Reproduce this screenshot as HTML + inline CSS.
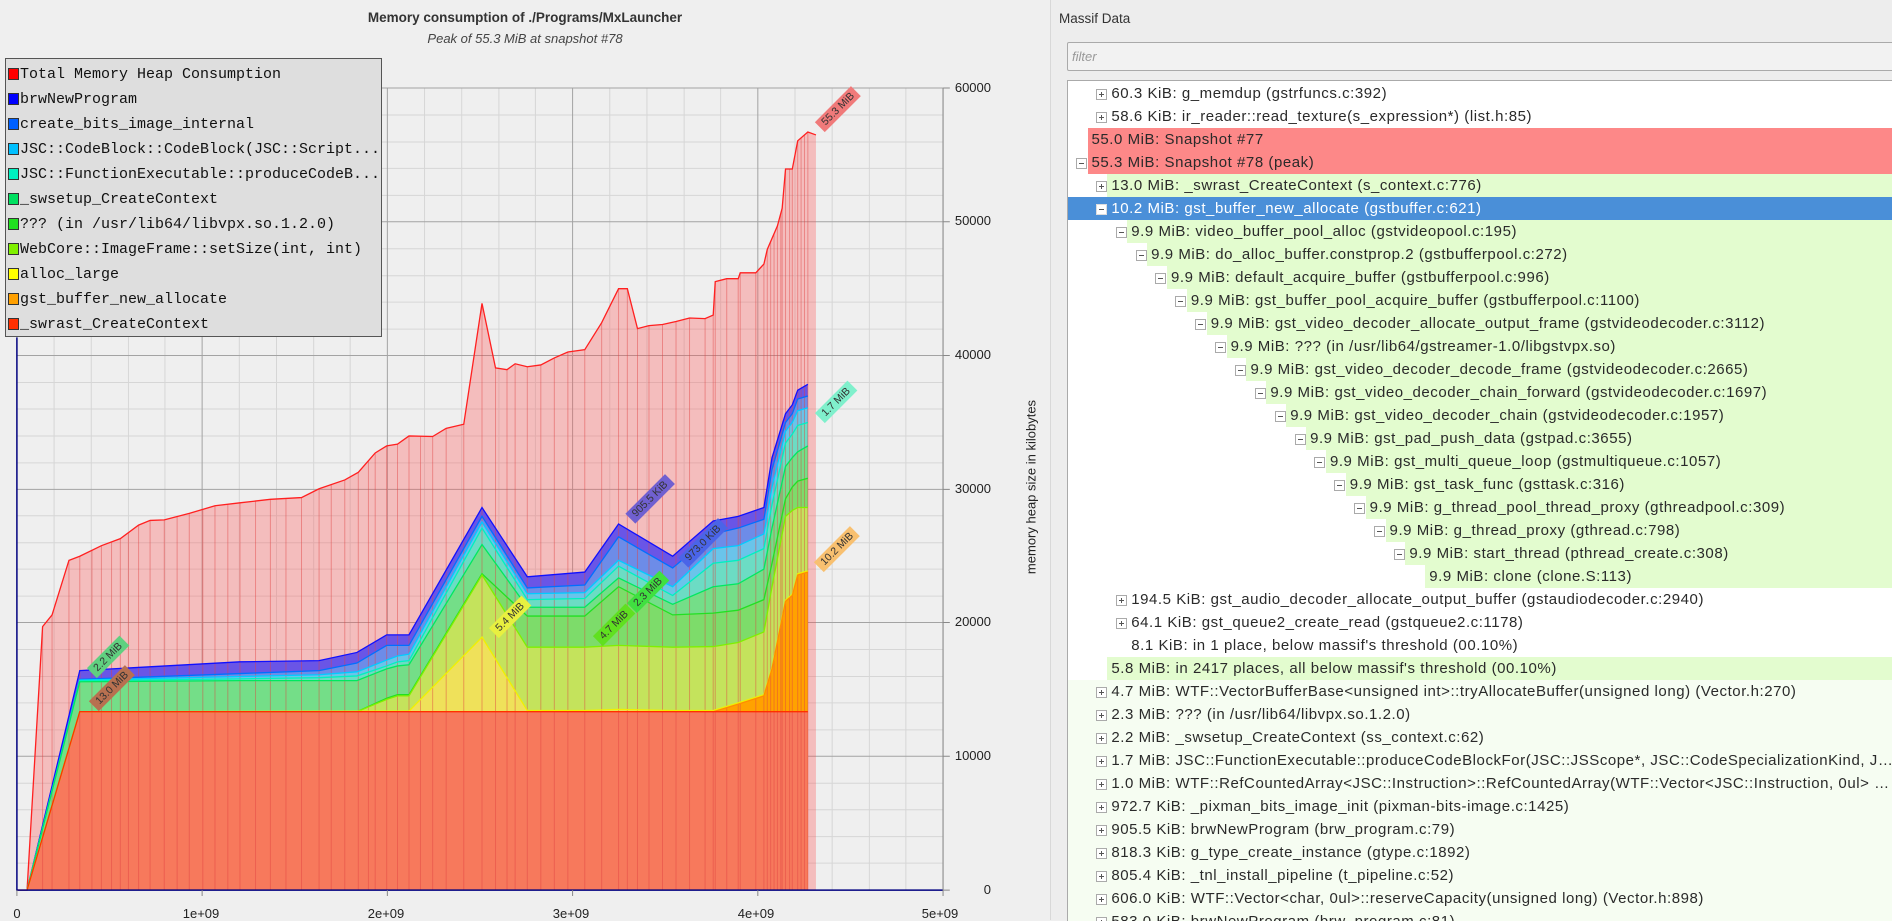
<!DOCTYPE html>
<html><head><meta charset="utf-8"><style>
html,body{margin:0;padding:0;}
body{width:1892px;height:920px;position:relative;overflow:hidden;background:#efefef;font-family:"Liberation Sans",sans-serif;}
.abs{position:absolute;}
.ttl{left:0;width:1050px;text-align:center;font-size:14px;color:#333;}
.yl{position:absolute;left:941px;width:50px;text-align:right;font-size:13px;color:#222;}
.xl{position:absolute;width:60px;margin-left:-30px;text-align:center;font-size:13px;color:#222;top:906px;}
.leg{position:absolute;left:5px;top:58px;width:375px;height:277px;background:#dedede;border:1px solid #555;}
.li{position:absolute;left:2px;font-family:"Liberation Mono",monospace;font-size:15px;color:#111;line-height:18px;}
.li i{display:inline-block;width:11px;height:12px;border:1px solid #333;vertical-align:-2px;margin-right:1px;box-sizing:border-box;}
.lab{position:absolute;font-size:10.5px;color:#333;padding:1px 5px;transform:translate(-50%,-50%) rotate(-45deg);white-space:nowrap;}
.tree{position:absolute;left:1067px;top:80px;width:825px;height:840px;background:#fff;border-top:1px solid #aaa;border-left:1px solid #aaa;overflow:hidden;}
.r{position:relative;height:23px;}
.r .bg{position:absolute;top:0;bottom:0;right:0;left:calc(19.5px + 19.87px*var(--n));}
.r .ic{position:absolute;top:7px;left:calc(8px + 19.87px*var(--n));width:9px;height:9px;border:1px solid #aaa;background:#fff;box-sizing:content-box;}
.r .ic:before{content:"";position:absolute;left:2px;top:4px;width:5px;height:1px;background:#555;}
.r .ic.p:after{content:"";position:absolute;left:4px;top:2px;width:1px;height:5px;background:#555;}
.r .t{position:absolute;top:0;line-height:23px;left:calc(23.5px + 19.87px*var(--n));font-size:15px;letter-spacing:0.55px;color:#2a2a2a;white-space:nowrap;right:0;overflow:hidden;text-overflow:ellipsis;}
.g .bg{background:#e3fccf;}
.rd .bg{background:#fd8888;left:19.5px;}
.lt .bg{background:#f6fdf2;left:0;}
</style></head><body>

<div class="abs ttl" style="top:10px;font-weight:bold;font-size:13.5px;">Memory consumption of ./Programs/MxLauncher</div>
<div class="abs ttl" style="top:31px;font-style:italic;font-size:13px;color:#444;">Peak of 55.3 MiB at snapshot #78</div>

<svg class="abs" style="left:0;top:0" width="1060" height="920" viewBox="0 0 1568 1568" preserveAspectRatio="none">
<defs>
<clipPath id="tc"><polygon points="40,1517 63,1068 77,1048 102,955 118,948 150,930 178,918 205,895 222,887 243,886 280,875 318,862 355,857 400,851 446,848 472,833 510,818 530,805 555,772 572,760 588,757 605,743 640,744 660,730 686,723 713,517 733,627 750,630 762,620 780,625 800,622 820,610 840,600 865,596 890,550 915,492 928,492 943,560 960,555 980,553 1000,548 1020,542 1043,543 1055,537 1058,480 1075,475 1092,475 1095,465 1118,465 1130,450 1135,425 1150,385 1157,355 1162,288 1172,288 1180,240 1195,225 1207,230 1207,1517"/></clipPath>
</defs>
<g stroke="#d6d6d6" stroke-width="1" vector-effect="non-scaling-stroke">
<path vector-effect="non-scaling-stroke" d="M25,1471H1395M25,1426H1395M25,1380H1395M25,1335H1395M25,1244H1395M25,1198H1395M25,1153H1395M25,1107H1395M25,1016H1395M25,970H1395M25,925H1395M25,879H1395M25,789H1395M25,743H1395M25,697H1395M25,652H1395M25,561H1395M25,515H1395M25,470H1395M25,424H1395M25,333H1395M25,287H1395M25,242H1395M25,196H1395"/>
<path vector-effect="non-scaling-stroke" d="M80,150V1517M135,150V1517M190,150V1517M244,150V1517M354,150V1517M409,150V1517M464,150V1517M518,150V1517M628,150V1517M683,150V1517M738,150V1517M792,150V1517M902,150V1517M957,150V1517M1012,150V1517M1066,150V1517M1176,150V1517M1231,150V1517M1286,150V1517M1340,150V1517"/>
</g>
<path stroke="#a3a3a3" fill="none" vector-effect="non-scaling-stroke" d="M25,1289H1395M25,1061H1395M25,834H1395M25,606H1395M25,378H1395M25,150H1395M299,150V1517M573,150V1517M847,150V1517M1121,150V1517M1395,150V1517"/>
<polygon fill="#ff5555" fill-opacity="0.32" stroke="none" points="25,1517 40,1517 63,1068 77,1048 102,955 118,948 150,930 178,918 205,895 222,887 243,886 280,875 318,862 355,857 400,851 446,848 472,833 510,818 530,805 555,772 572,760 588,757 605,743 640,744 660,730 686,723 713,517 733,627 750,630 762,620 780,625 800,622 820,610 840,600 865,596 890,550 915,492 928,492 943,560 960,555 980,553 1000,548 1020,542 1043,543 1055,537 1058,480 1075,475 1092,475 1095,465 1118,465 1130,450 1135,425 1150,385 1157,355 1162,288 1172,288 1180,240 1195,225 1207,230 1207,1517"/>
<g fill-opacity="1">
<polygon fill="#6a55e6" points="40,1517 118,1143 355,1128 472,1126 528,1112 572,1082 588,1082 605,1082 713,865 780,983 865,975 915,893 995,948 1055,888 1092,880 1130,865 1142,780 1162,705 1172,690 1180,665 1195,655 1195,1517"/>
<polygon fill="#6d8ce8" points="40,1517 118,1158 355,1148 472,1143 528,1130 572,1100 588,1100 605,1100 713,880 780,1002 865,997 915,915 995,968 1055,910 1092,900 1130,885 1142,800 1162,720 1172,705 1180,680 1195,675 1195,1517"/>
<polygon fill="#6ac4ea" points="40,1517 118,1159 355,1153 472,1150 528,1145 572,1125 588,1118 605,1115 713,890 780,1012 865,1010 915,955 995,1000 1055,935 1092,930 1130,910 1142,830 1162,735 1172,720 1180,700 1195,695 1195,1517"/>
<polygon fill="#6cdcc4" points="40,1517 118,1160 355,1157 472,1155 528,1152 572,1135 588,1128 605,1126 713,900 780,1022 865,1020 915,965 995,1015 1055,960 1092,955 1130,935 1142,860 1162,755 1172,740 1180,725 1195,720 1195,1517"/>
<polygon fill="#74de88" points="40,1517 118,1162 355,1160 472,1160 528,1160 572,1140 588,1135 605,1133 713,928 780,1035 865,1035 915,985 995,1030 1055,1000 1092,995 1130,970 1142,900 1162,795 1172,780 1180,770 1195,760 1195,1517"/>
<polygon fill="#7ddc6a" points="40,1517 118,1213 528,1213 572,1190 588,1184 605,1184 713,978 780,1050 865,1050 915,1000 995,1048 1055,1045 1092,1040 1130,1022 1142,960 1162,850 1172,830 1180,820 1195,815 1195,1517"/>
<polygon fill="#c4e35c" points="40,1517 118,1213 528,1213 572,1192 588,1186 605,1186 713,980 780,1103 865,1103 915,1100 995,1103 1055,1102 1092,1095 1130,1077 1142,1000 1162,880 1172,870 1180,865 1195,865 1195,1517"/>
<polygon fill="#efe15a" points="40,1517 118,1213 605,1212 713,1086 780,1211 865,1211 915,1209 995,1211 1055,1211 1092,1198 1130,1184 1142,1138 1162,1023 1172,1013 1180,978 1195,973 1195,1517"/>
<polygon fill="#ffa200" points="40,1517 118,1213 1055,1213 1092,1200 1130,1186 1142,1140 1162,1025 1172,1015 1180,980 1195,975 1195,1517"/>
<polygon fill="#f7795c" points="25,1517 40,1517 118,1213 1195,1213 1195,1517"/>
</g>
<g clip-path="url(#tc)" stroke="#e04040" stroke-opacity="0.45" fill="none">
<path vector-effect="non-scaling-stroke" d="M63,0V1517M77,0V1517M102,0V1517M118,0V1517M136,0V1517M150,0V1517M165,0V1517M178,0V1517M190,0V1517M205,0V1517M222,0V1517M243,0V1517M262,0V1517M280,0V1517M300,0V1517M318,0V1517M337,0V1517M355,0V1517M378,0V1517M400,0V1517M423,0V1517M446,0V1517M472,0V1517M490,0V1517M510,0V1517M530,0V1517M545,0V1517M555,0V1517M572,0V1517M588,0V1517M605,0V1517M622,0V1517M640,0V1517M660,0V1517M686,0V1517M713,0V1517M733,0V1517M750,0V1517M762,0V1517M780,0V1517M800,0V1517M820,0V1517M840,0V1517M865,0V1517M890,0V1517M915,0V1517M928,0V1517M943,0V1517M960,0V1517M980,0V1517M1000,0V1517M1020,0V1517M1043,0V1517M1055,0V1517M1058,0V1517M1075,0V1517M1092,0V1517M1095,0V1517M1118,0V1517M1130,0V1517M1135,0V1517M1140,0V1517M1145,0V1517M1150,0V1517M1155,0V1517M1157,0V1517M1162,0V1517M1168,0V1517M1172,0V1517M1180,0V1517M1185,0V1517M1190,0V1517M1195,0V1517"/>
</g>
<g fill="none" stroke-width="1.3">
<polyline vector-effect="non-scaling-stroke" stroke="#ff2020" points="40,1517 63,1068 77,1048 102,955 118,948 150,930 178,918 205,895 222,887 243,886 280,875 318,862 355,857 400,851 446,848 472,833 510,818 530,805 555,772 572,760 588,757 605,743 640,744 660,730 686,723 713,517 733,627 750,630 762,620 780,625 800,622 820,610 840,600 865,596 890,550 915,492 928,492 943,560 960,555 980,553 1000,548 1020,542 1043,543 1055,537 1058,480 1075,475 1092,475 1095,465 1118,465 1130,450 1135,425 1150,385 1157,355 1162,288 1172,288 1180,240 1195,225 1207,230"/>
<polyline vector-effect="non-scaling-stroke" stroke="#1010ff" points="40,1517 118,1143 355,1128 472,1126 528,1112 572,1082 588,1082 605,1082 713,865 780,983 865,975 915,893 995,948 1055,888 1092,880 1130,865 1142,780 1162,705 1172,690 1180,665 1195,655"/>
<polyline vector-effect="non-scaling-stroke" stroke="#0070ff" points="40,1517 118,1158 355,1148 472,1143 528,1130 572,1100 605,1100 713,880 780,1002 865,997 915,915 995,968 1055,910 1092,900 1130,885 1142,800 1162,720 1172,705 1180,680 1195,675"/>
<polyline vector-effect="non-scaling-stroke" stroke="#00ccff" points="40,1517 118,1159 355,1153 472,1150 528,1145 572,1125 588,1118 605,1115 713,890 780,1012 865,1010 915,955 995,1000 1055,935 1092,930 1130,910 1142,830 1162,735 1172,720 1180,700 1195,695"/>
<polyline vector-effect="non-scaling-stroke" stroke="#00f0c0" points="40,1517 118,1160 355,1157 472,1155 528,1152 572,1135 588,1128 605,1126 713,900 780,1022 865,1020 915,965 995,1015 1055,960 1092,955 1130,935 1142,860 1162,755 1172,740 1180,725 1195,720"/>
<polyline vector-effect="non-scaling-stroke" stroke="#00e860" points="40,1517 118,1162 355,1160 472,1160 528,1160 572,1140 588,1135 605,1133 713,928 780,1035 865,1035 915,985 995,1030 1055,1000 1092,995 1130,970 1142,900 1162,795 1172,780 1180,770 1195,760"/>
<polyline vector-effect="non-scaling-stroke" stroke="#22e022" points="40,1517 118,1213 528,1213 572,1190 588,1184 605,1184 713,978 780,1050 865,1050 915,1000 995,1048 1055,1045 1092,1040 1130,1022 1142,960 1162,850 1172,830 1180,820 1195,815"/>
<polyline vector-effect="non-scaling-stroke" stroke="#80f000" points="40,1517 118,1213 528,1213 572,1192 588,1186 605,1186 713,980 780,1103 865,1103 915,1100 995,1103 1055,1102 1092,1095 1130,1077 1142,1000 1162,880 1172,870 1180,865 1195,865"/>
<polyline vector-effect="non-scaling-stroke" stroke="#f0f000" points="40,1517 118,1213 605,1212 713,1086 780,1211 865,1211 915,1209 995,1211 1055,1211 1092,1198 1130,1184 1142,1138 1162,1023 1172,1013 1180,978 1195,973"/>
<polyline vector-effect="non-scaling-stroke" stroke="#ff8c00" points="1055,1213 1092,1200 1130,1186 1142,1140 1162,1025 1172,1015 1180,980 1195,975"/>
<polyline vector-effect="non-scaling-stroke" stroke="#ff3000" points="25,1517 40,1517 118,1213 1195,1213"/>
</g>
<path vector-effect="non-scaling-stroke" stroke="#000080" stroke-width="1.5" fill="none" d="M25,575V1517H1395"/>
<path vector-effect="non-scaling-stroke" stroke="#888" fill="none" d="M1395,1517V150M1395,150h10M1395,378h10M1395,606h10M1395,834h10M1395,1061h10M1395,1289h10M1395,1517h10M25,1517v10M299,1517v10M573,1517v10M847,1517v10M1121,1517v10M1395,1517v10"/>
</svg>

<div class="yl" style="top:80px">60000</div>
<div class="yl" style="top:213px">50000</div>
<div class="yl" style="top:347px">40000</div>
<div class="yl" style="top:481px">30000</div>
<div class="yl" style="top:614px">20000</div>
<div class="yl" style="top:748px">10000</div>
<div class="yl" style="top:882px">0</div>
<div class="xl" style="left:17px">0</div>
<div class="xl" style="left:201px">1e+09</div>
<div class="xl" style="left:386px">2e+09</div>
<div class="xl" style="left:571px">3e+09</div>
<div class="xl" style="left:756px">4e+09</div>
<div class="xl" style="left:940px">5e+09</div>
<div class="abs" style="left:1031px;top:487px;transform:translate(-50%,-50%) rotate(-90deg);font-size:13px;color:#222;white-space:nowrap;">memory heap size in kilobytes</div>

<div class="lab" style="left:838px;top:109px;background:#f07a7a;">55.3 MiB</div>
<div class="lab" style="left:836px;top:402px;background:#80f0cc;">1.7 MiB</div>
<div class="lab" style="left:837px;top:549px;background:#f8c070;">10.2 MiB</div>
<div class="lab" style="left:650px;top:499px;background:#7060d0;">905.5 KiB</div>
<div class="lab" style="left:703px;top:543px;background:#4a64e8;">973.0 KiB</div>
<div class="lab" style="left:648px;top:592px;background:#40e040;">2.3 MiB</div>
<div class="lab" style="left:614px;top:625px;background:#60e020;">4.7 MiB</div>
<div class="lab" style="left:510px;top:617px;background:#e8f040;">5.4 MiB</div>
<div class="lab" style="left:108px;top:657px;background:#60d080;">2.2 MiB</div>
<div class="lab" style="left:112px;top:688px;background:#b87050;">13.0 MiB</div>

<div class="leg">
<div class="li" style="top:7px"><i style="background:#ff0000"></i>Total Memory Heap Consumption</div>
<div class="li" style="top:32px"><i style="background:#0000ff"></i>brwNewProgram</div>
<div class="li" style="top:57px"><i style="background:#0060ff"></i>create_bits_image_internal</div>
<div class="li" style="top:82px"><i style="background:#00c0ff"></i>JSC::CodeBlock::CodeBlock(JSC::Script...</div>
<div class="li" style="top:107px"><i style="background:#00f0c0"></i>JSC::FunctionExecutable::produceCodeB...</div>
<div class="li" style="top:132px"><i style="background:#00e060"></i>_swsetup_CreateContext</div>
<div class="li" style="top:157px"><i style="background:#20e020"></i>??? (in /usr/lib64/libvpx.so.1.2.0)</div>
<div class="li" style="top:182px"><i style="background:#80f000"></i>WebCore::ImageFrame::setSize(int, int)</div>
<div class="li" style="top:207px"><i style="background:#ffff00"></i>alloc_large</div>
<div class="li" style="top:232px"><i style="background:#ffa000"></i>gst_buffer_new_allocate</div>
<div class="li" style="top:257px"><i style="background:#ff3000"></i>_swrast_CreateContext</div>
</div>

<div class="abs" style="left:1050px;top:0;width:842px;height:920px;background:#ededed;border-left:1px solid #d8d8d8;"></div>
<div class="abs" style="left:1059px;top:11px;font-size:13.5px;color:#333;">Massif Data</div>
<div class="abs" style="left:1067px;top:42px;width:830px;height:29px;background:#f2f2f2;border:1px solid #aaa;border-radius:2px;box-sizing:border-box;"><span style="position:absolute;left:4px;top:6px;font-size:13px;font-style:italic;color:#999;">filter</span></div>

<div class="tree">
<div style="height:1px"></div>
<div class="r" style="--n:1"><span class="ic p"></span><span class="t">60.3 KiB: g_memdup (gstrfuncs.c:392)</span></div>
<div class="r" style="--n:1"><span class="ic p"></span><span class="t">58.6 KiB: ir_reader::read_texture(s_expression*) (list.h:85)</span></div>
<div class="r rd" style="--n:0"><span class="bg"></span><span class="t">55.0 MiB: Snapshot #77</span></div>
<div class="r rd" style="--n:0"><span class="bg"></span><span class="ic"></span><span class="t">55.3 MiB: Snapshot #78 (peak)</span></div>
<div class="r g" style="--n:1"><span class="bg"></span><span class="ic p"></span><span class="t">13.0 MiB: _swrast_CreateContext (s_context.c:776)</span></div>
<div class="r" style="--n:1"><span class="bg" style="left:0;background:#4a8fd8"></span><span class="ic" style="border-color:#ddd"></span><span class="t" style="color:#fff">10.2 MiB: gst_buffer_new_allocate (gstbuffer.c:621)</span></div>
<div class="r g" style="--n:2"><span class="bg"></span><span class="ic"></span><span class="t">9.9 MiB: video_buffer_pool_alloc (gstvideopool.c:195)</span></div>
<div class="r g" style="--n:3"><span class="bg"></span><span class="ic"></span><span class="t">9.9 MiB: do_alloc_buffer.constprop.2 (gstbufferpool.c:272)</span></div>
<div class="r g" style="--n:4"><span class="bg"></span><span class="ic"></span><span class="t">9.9 MiB: default_acquire_buffer (gstbufferpool.c:996)</span></div>
<div class="r g" style="--n:5"><span class="bg"></span><span class="ic"></span><span class="t">9.9 MiB: gst_buffer_pool_acquire_buffer (gstbufferpool.c:1100)</span></div>
<div class="r g" style="--n:6"><span class="bg"></span><span class="ic"></span><span class="t">9.9 MiB: gst_video_decoder_allocate_output_frame (gstvideodecoder.c:3112)</span></div>
<div class="r g" style="--n:7"><span class="bg"></span><span class="ic"></span><span class="t">9.9 MiB: ??? (in /usr/lib64/gstreamer-1.0/libgstvpx.so)</span></div>
<div class="r g" style="--n:8"><span class="bg"></span><span class="ic"></span><span class="t">9.9 MiB: gst_video_decoder_decode_frame (gstvideodecoder.c:2665)</span></div>
<div class="r g" style="--n:9"><span class="bg"></span><span class="ic"></span><span class="t">9.9 MiB: gst_video_decoder_chain_forward (gstvideodecoder.c:1697)</span></div>
<div class="r g" style="--n:10"><span class="bg"></span><span class="ic"></span><span class="t">9.9 MiB: gst_video_decoder_chain (gstvideodecoder.c:1957)</span></div>
<div class="r g" style="--n:11"><span class="bg"></span><span class="ic"></span><span class="t">9.9 MiB: gst_pad_push_data (gstpad.c:3655)</span></div>
<div class="r g" style="--n:12"><span class="bg"></span><span class="ic"></span><span class="t">9.9 MiB: gst_multi_queue_loop (gstmultiqueue.c:1057)</span></div>
<div class="r g" style="--n:13"><span class="bg"></span><span class="ic"></span><span class="t">9.9 MiB: gst_task_func (gsttask.c:316)</span></div>
<div class="r g" style="--n:14"><span class="bg"></span><span class="ic"></span><span class="t">9.9 MiB: g_thread_pool_thread_proxy (gthreadpool.c:309)</span></div>
<div class="r g" style="--n:15"><span class="bg"></span><span class="ic"></span><span class="t">9.9 MiB: g_thread_proxy (gthread.c:798)</span></div>
<div class="r g" style="--n:16"><span class="bg"></span><span class="ic"></span><span class="t">9.9 MiB: start_thread (pthread_create.c:308)</span></div>
<div class="r g" style="--n:17"><span class="bg"></span><span class="t">9.9 MiB: clone (clone.S:113)</span></div>
<div class="r" style="--n:2"><span class="ic p"></span><span class="t">194.5 KiB: gst_audio_decoder_allocate_output_buffer (gstaudiodecoder.c:2940)</span></div>
<div class="r" style="--n:2"><span class="ic p"></span><span class="t">64.1 KiB: gst_queue2_create_read (gstqueue2.c:1178)</span></div>
<div class="r" style="--n:2"><span class="t">8.1 KiB: in 1 place, below massif's threshold (00.10%)</span></div>
<div class="r g" style="--n:1"><span class="bg"></span><span class="t">5.8 MiB: in 2417 places, all below massif's threshold (00.10%)</span></div>
<div class="r lt" style="--n:1"><span class="bg"></span><span class="ic p"></span><span class="t">4.7 MiB: WTF::VectorBufferBase&lt;unsigned int&gt;::tryAllocateBuffer(unsigned long) (Vector.h:270)</span></div>
<div class="r lt" style="--n:1"><span class="bg"></span><span class="ic p"></span><span class="t">2.3 MiB: ??? (in /usr/lib64/libvpx.so.1.2.0)</span></div>
<div class="r lt" style="--n:1"><span class="bg"></span><span class="ic p"></span><span class="t">2.2 MiB: _swsetup_CreateContext (ss_context.c:62)</span></div>
<div class="r lt" style="--n:1"><span class="bg"></span><span class="ic p"></span><span class="t">1.7 MiB: JSC::FunctionExecutable::produceCodeBlockFor(JSC::JSScope*, JSC::CodeSpecializationKind, JSC::JSObject*&amp;)</span></div>
<div class="r lt" style="--n:1"><span class="bg"></span><span class="ic p"></span><span class="t">1.0 MiB: WTF::RefCountedArray&lt;JSC::Instruction&gt;::RefCountedArray(WTF::Vector&lt;JSC::Instruction, 0ul&gt; const&amp;) (RefCountedArray.h:60)</span></div>
<div class="r lt" style="--n:1"><span class="bg"></span><span class="ic p"></span><span class="t">972.7 KiB: _pixman_bits_image_init (pixman-bits-image.c:1425)</span></div>
<div class="r lt" style="--n:1"><span class="bg"></span><span class="ic p"></span><span class="t">905.5 KiB: brwNewProgram (brw_program.c:79)</span></div>
<div class="r lt" style="--n:1"><span class="bg"></span><span class="ic p"></span><span class="t">818.3 KiB: g_type_create_instance (gtype.c:1892)</span></div>
<div class="r lt" style="--n:1"><span class="bg"></span><span class="ic p"></span><span class="t">805.4 KiB: _tnl_install_pipeline (t_pipeline.c:52)</span></div>
<div class="r lt" style="--n:1"><span class="bg"></span><span class="ic p"></span><span class="t">606.0 KiB: WTF::Vector&lt;char, 0ul&gt;::reserveCapacity(unsigned long) (Vector.h:898)</span></div>
<div class="r lt" style="--n:1"><span class="bg"></span><span class="ic p"></span><span class="t">583.0 KiB: brwNewProgram (brw_program.c:81)</span></div>
</div>
</body></html>
